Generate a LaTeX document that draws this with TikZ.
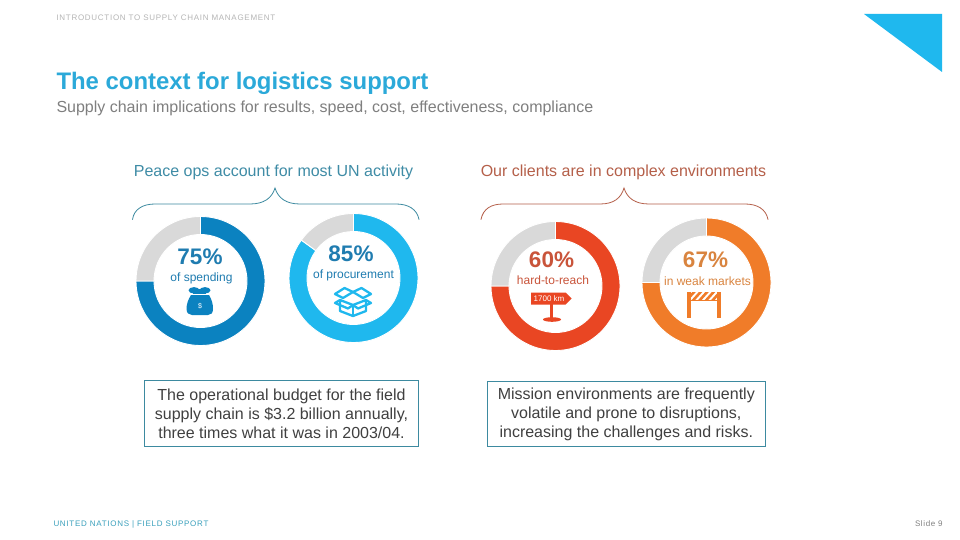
\documentclass[tikz,border=0pt]{standalone}
\usepackage{fontspec}
\setmainfont{Liberation Sans}
\newfontfamily\spacedfont[LetterSpace=9]{Liberation Sans}
\newfontfamily\slidefont[LetterSpace=8]{Liberation Sans}
\definecolor{bluedark}{HTML}{0B82C0}
\definecolor{bluelight}{HTML}{1FB8EE}
\definecolor{redring}{HTML}{E94623}
\definecolor{orangering}{HTML}{F07C29}
\definecolor{grayring}{HTML}{D9D9D9}
\definecolor{titleblue}{HTML}{2BA9D9}
\definecolor{subgray}{HTML}{7F7F7F}
\definecolor{headgray}{HTML}{B5B5B5}
\definecolor{footblue}{HTML}{3AA0BC}
\definecolor{slidegray}{HTML}{808080}
\definecolor{tealline}{HTML}{3D8AA0}
\definecolor{peacetext}{HTML}{3F8CA6}
\definecolor{clienttext}{HTML}{B5604A}
\definecolor{boxtext}{HTML}{404040}
\definecolor{num}{HTML}{1F7CB0}
\definecolor{redtext}{HTML}{C9543A}
\definecolor{orangetext}{HTML}{D9843F}
\newcommand{\fsz}[1]{\fontsize{#1}{#1}\selectfont}
\newcommand{\ringpart}[3]{% colour, start, end
  \fill[#1,draw=white,line width=0.9pt] (#2:64.5) arc (#2:#3:64.5) -- (#3:46.5) arc (#3:#2:46.5) -- cycle;}
\newcommand{\donut}[6]{% cx, cy, colour, grey end angle, colour end angle, name
  \begin{scope}[shift={(#1,#2)},yscale=-1]
    \ringpart{#3}{90}{#5}
    \ringpart{grayring}{#4}{90}
  \end{scope}
  \coordinate (#6) at (#1,#2);}
\tikzset{
  lbl/.style={inner sep=0pt,outer sep=0pt,anchor=center},
  leftlbl/.style={inner sep=0pt,outer sep=0pt,anchor=base west},
  bracket/.style={line width=0.8pt,line cap=round},
  textbox/.style={draw=tealline,line width=1pt,fill=white,inner sep=0pt,align=center,text=boxtext,font=\fontsize{16}{19}\selectfont},
  numlbl/.style={lbl,font=\bfseries\fsz{22.5}},
  sublbl/.style={lbl,font=\fsz{12}},
  headlbl/.style={lbl,font=\fsz{16}},
}
\begin{document}
\begin{tikzpicture}[x=1pt,y=-1pt]
\useasboundingbox (0,0) rectangle (960,540);
\fill[white] (0,0) rectangle (960,540);
% header
\node[leftlbl,text=headgray,font=\spacedfont\fsz{8}] (hdr) at (56.5,20.5) {INTRODUCTION TO SUPPLY CHAIN MANAGEMENT};
\node[leftlbl,text=titleblue,font=\bfseries\fsz{23.9}] (ttl) at (56.5,89.5) {The context for logistics support};
\node[leftlbl,text=subgray,font=\fsz{16}] (sub) at (56.5,112.5) {Supply chain implications for results, speed, cost, effectiveness, compliance};
\fill[bluelight] (864,14) -- (942,14) -- (942,72) -- cycle;
% column headings
\node[headlbl,text=peacetext] (hl) at (273.5,172.5) {Peace ops account for most UN activity};
\node[headlbl,text=clienttext] (hr) at (623.5,172.5) {Our clients are in complex environments};
% braces
\draw[bracket,draw=tealline] (132.5,219.5) .. controls (134,209) and (143,204) .. (155,204) -- (250,204) .. controls (264,204) and (272,198) .. (275,188) .. controls (278,198) and (286,204) .. (300,204) -- (396,204) .. controls (408,204) and (417,209) .. (419,219.5);
\draw[bracket,draw=clienttext] (481,219.5) .. controls (483,209) and (491,204) .. (503,204) -- (600,204) .. controls (614,204) and (621,198) .. (624,188) .. controls (627,198) and (635,204) .. (649,204) -- (745,204) .. controls (757,204) and (766,209) .. (768,219.5);
% donuts
\donut{200.5}{281}{bluedark}{180}{-180}{d1}
\donut{353.5}{278}{bluelight}{144}{-216}{d2}
\donut{555.5}{286}{redring}{180}{-180}{d3}
\donut{706.5}{282.5}{orangering}{180}{-180}{d4}
% donut labels
\node[numlbl,text=num] (n1) at (200,257) {75\%};
\node[sublbl,text=num] (s1) at (201.5,278) {of spending};
\node[numlbl,text=num] (n2) at (351,253.5) {85\%};
\node[sublbl,text=num,font=\fsz{12}] (s2) at (353.5,275) {of procurement};
\node[numlbl,text=redtext] (n3) at (551.5,260) {60\%};
\node[sublbl,text=redtext] (s3) at (553,280) {hard-to-reach};
\node[numlbl,text=orangetext] (n4) at (705.5,260) {67\%};
\node[sublbl,text=orangetext] (s4) at (707.5,281) {in weak markets};
% money bag icon
\fill[bluedark] (194,290.3) ellipse [x radius=5.5,y radius=3.2];
\fill[bluedark] (205,290.3) ellipse [x radius=5.5,y radius=3.2];
\fill[bluedark] (193,288.5) rectangle (206,293.5);
\fill[bluedark] (191,295) .. controls (188,300) and (186.5,304) .. (186.5,309) .. controls (186.5,313) and (189,315) .. (192,315) -- (208,315) .. controls (211,315) and (213,313) .. (213,309) .. controls (213,304) and (212,300) .. (209,295) -- cycle;
\node[lbl,text=white,font=\fsz{7}] (dollar) at (200,306) {\$};
% box icon
\begin{scope}[draw=bluelight,line width=2.3pt,line join=round]
  \draw (340,300) -- (353,305) -- (366,300) -- (366,311) -- (353,316) -- (340,311) -- cycle;
  \draw (353,305) -- (353,316);
  \draw (335,294) -- (344.5,288) -- (353,292) -- (343,298) -- cycle;
  \draw (371,294) -- (361.5,288) -- (353,292) -- (363,298) -- cycle;
  \draw (340,300) -- (335,303) -- (348,308.5) -- (353,305) -- (358,308.5) -- (371,303) -- (366,300);
\end{scope}
% signpost icon
\fill[redring] (531,292.5) -- (565.5,292.5) -- (571.5,298.5) -- (565.5,304.5) -- (531,304.5) -- cycle;
\fill[redring] (550.3,304) rectangle (553,319);
\fill[redring] (552,319.5) ellipse [x radius=9,y radius=2.3];
\node[lbl,text=white,font=\fsz{8}] (km) at (549,298.5) {1700 km};
% barrier icon
\fill[orangering] (687.3,292) rectangle (691,317.5);
\fill[orangering] (716.8,292) rectangle (720.5,317.5);
\begin{scope}
  \clip (691,292.5) rectangle (717,300);
  \foreach \k in {0,1,...,5}{
    \draw[orangering,line width=2.6pt] (686+6.5*\k,301) -- (695+6.5*\k,291);
  }
\end{scope}
\draw[orangering,line width=0.7pt] (691,300.5) -- (717,300.5);
% text boxes
\node[textbox,minimum width=274.5pt,minimum height=66.5pt] (b1) at (281.5,413.5) {The operational budget for the field\\ supply chain is \$3.2 billion annually,\\ three times what it was in 2003/04.};
\node[textbox,minimum width=278pt,minimum height=65.5pt] (b2) at (626.3,414) {Mission environments are frequently\\ volatile and prone to disruptions,\\ increasing the challenges and risks.};
% footer
\node[leftlbl,text=footblue,font=\spacedfont\fsz{8}] (ftr) at (53.5,526.5) {UNITED NATIONS | FIELD SUPPORT};
\node[leftlbl,text=slidegray,font=\slidefont\fsz{8}] (sld) at (915,526) {Slide 9};
\end{tikzpicture}
\end{document}
